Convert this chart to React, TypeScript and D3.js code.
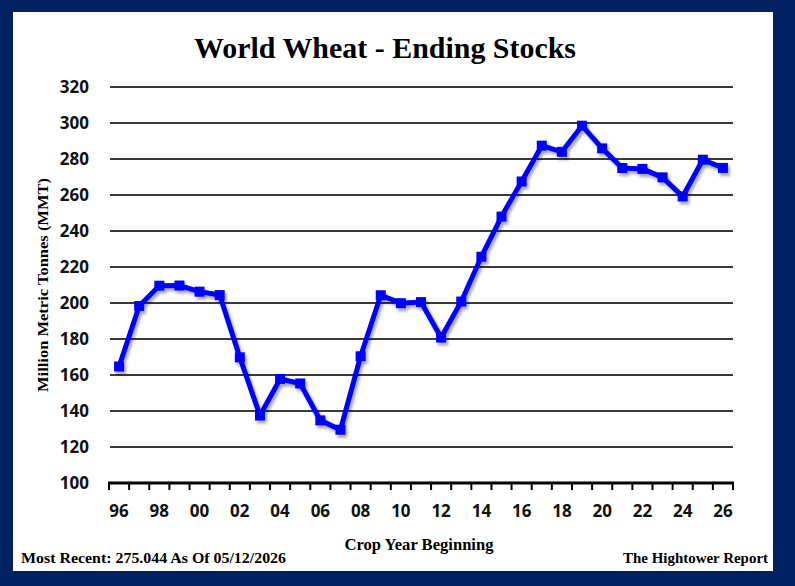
import * as d3 from "d3";
import { useEffect, useRef } from "react";

// Crop years 1996..2026, labels shown every other year
const years = d3.range(1996, 2027);
const stocks = [
  164.7, 198.3, 209.6, 209.7, 206.3, 204.4, 169.8, 137.5, 157.8, 155.3,
  134.8, 129.6, 170.4, 204.3, 199.9, 200.5, 180.8, 200.8, 225.7, 248.0,
  267.5, 287.4, 284.0, 298.5, 285.9, 275.0, 274.5, 269.8, 259.2, 279.6,
  275.044,
];
const yTicks = [100, 120, 140, 160, 180, 200, 220, 240, 260, 280, 300, 320];

const W = 795;
const H = 586;
const navy = "#00205F";
const serif = "'Liberation Serif', 'DejaVu Serif', serif";
const sans = "'Open Sans', 'Noto Sans', sans-serif";

export default function App() {
  const ref = useRef<SVGSVGElement>(null);

  useEffect(() => {
    if (!ref.current) return;
    const svg = d3.select(ref.current);
    svg.selectAll("*").remove();

    const x = d3.scaleBand<number>().domain(years).range([109, 733]).padding(0);
    const y = d3.scaleLinear().domain([100, 320]).range([483, 87]);
    const cx = (yr: number) => (x(yr) ?? 0) + x.bandwidth() / 2;

    const defs = svg.append("defs");
    const f = defs
      .append("filter")
      .attr("id", "shadow")
      .attr("x", "-10%")
      .attr("y", "-10%")
      .attr("width", "120%")
      .attr("height", "120%");
    f.append("feDropShadow")
      .attr("dx", 2)
      .attr("dy", 3)
      .attr("stdDeviation", 1.5)
      .attr("flood-color", "#000")
      .attr("flood-opacity", 0.35);

    // frame
    svg.append("rect").attr("width", W).attr("height", H).attr("fill", navy);
    svg.append("rect")
      .attr("x", 13)
      .attr("y", 12)
      .attr("width", 760)
      .attr("height", 559)
      .attr("fill", "#fff");

    // title
    svg.append("text")
      .attr("x", 385)
      .attr("y", 58)
      .attr("text-anchor", "middle")
      .attr("font-family", serif)
      .attr("font-weight", "bold")
      .attr("font-size", 29)
      .attr("textLength", 382)
      .attr("lengthAdjust", "spacingAndGlyphs")
      .text("World Wheat - Ending Stocks");

    // gridlines + y labels
    yTicks.forEach((t) => {
      if (t !== 100) {
        svg.append("line")
          .attr("x1", 110)
          .attr("x2", 733)
          .attr("y1", y(t))
          .attr("y2", y(t))
          .attr("stroke", "#3a3a3a")
          .attr("stroke-width", 2);
      }
      svg.append("text")
        .attr("x", 89)
        .attr("y", y(t))
        .attr("dy", "0.36em")
        .attr("text-anchor", "end")
        .attr("font-family", sans)
        .attr("font-weight", "bold")
        .attr("font-size", 17)
        .attr("fill", "#111")
        .text(t);
    });

    // bottom axis with boundary ticks
    const bounds = years.map((yr) => x(yr) ?? 0).concat([733]);
    bounds.forEach((bx) => {
      svg.append("line")
        .attr("x1", bx)
        .attr("x2", bx)
        .attr("y1", 483)
        .attr("y2", 490)
        .attr("stroke", "#000")
        .attr("stroke-width", 2);
    });
    svg.append("line")
      .attr("x1", 108)
      .attr("x2", 734)
      .attr("y1", 483)
      .attr("y2", 483)
      .attr("stroke", "#000")
      .attr("stroke-width", 3);

    years.forEach((yr) => {
      if (yr % 2 !== 0) return;
      svg.append("text")
        .attr("x", cx(yr))
        .attr("y", 517)
        .attr("text-anchor", "middle")
        .attr("font-family", sans)
        .attr("font-weight", "bold")
        .attr("font-size", 17)
        .attr("fill", "#111")
        .text(String(yr).slice(2));
    });

    // series
    const line = d3
      .line<number>()
      .x((_, i) => cx(years[i]))
      .y((d) => y(d));
    const g = svg.append("g").attr("filter", "url(#shadow)");
    g.append("path")
      .attr("d", line(stocks))
      .attr("fill", "none")
      .attr("stroke", "#0000FF")
      .attr("stroke-width", 5)
      .attr("stroke-linejoin", "round");
    g.selectAll("rect.pt")
      .data(stocks)
      .enter()
      .append("rect")
      .attr("class", "pt")
      .attr("x", (_, i) => cx(years[i]) - 5)
      .attr("y", (d) => y(d) - 5)
      .attr("width", 10)
      .attr("height", 10)
      .attr("fill", "#0000FF");

    // axis titles
    svg.append("text")
      .attr("transform", `translate(48,285) rotate(-90)`)
      .attr("text-anchor", "middle")
      .attr("font-family", serif)
      .attr("font-weight", "bold")
      .attr("font-size", 15)
      .attr("textLength", 214)
      .attr("lengthAdjust", "spacingAndGlyphs")
      .text("Million Metric Tonnes (MMT)");
    svg.append("text")
      .attr("x", 419)
      .attr("y", 550)
      .attr("text-anchor", "middle")
      .attr("font-family", serif)
      .attr("font-weight", "bold")
      .attr("font-size", 16)
      .attr("textLength", 149)
      .attr("lengthAdjust", "spacingAndGlyphs")
      .text("Crop Year Beginning");

    // footer
    svg.append("text")
      .attr("x", 21)
      .attr("y", 563)
      .attr("font-family", serif)
      .attr("font-weight", "bold")
      .attr("font-size", 14)
      .attr("textLength", 265)
      .attr("lengthAdjust", "spacingAndGlyphs")
      .text("Most Recent: 275.044 As Of 05/12/2026");
    svg.append("text")
      .attr("x", 768)
      .attr("y", 563)
      .attr("text-anchor", "end")
      .attr("font-family", serif)
      .attr("font-weight", "bold")
      .attr("font-size", 14)
      .attr("textLength", 145)
      .attr("lengthAdjust", "spacingAndGlyphs")
      .text("The Hightower Report");
  }, []);

  return (
    <svg
      ref={ref}
      width={W}
      height={H}
      viewBox={`0 0 ${W} ${H}`}
      style={{ display: "block", position: "absolute", left: 0, top: 0 }}
    />
  );
}
